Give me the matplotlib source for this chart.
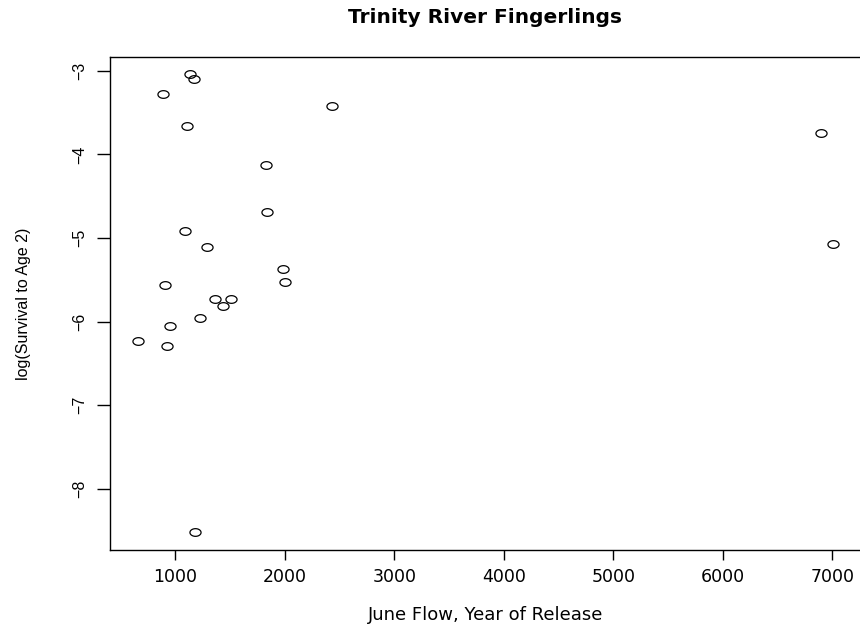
import numpy as np
import matplotlib

matplotlib.use("Agg")
import matplotlib.pyplot as plt
from matplotlib.path import Path

plt.rcParams["font.family"] = ["DejaVu Sans"]

# June flow and log survival
june_flow = [1137, 1176, 890, 2435, 1112, 1828, 1839, 1091, 1292, 1988, 2006,
             909, 1365, 1508, 1438, 1225, 952, 660, 927, 1182, 6894, 7006]
log_surv = [-3.04, -3.10, -3.28, -3.42, -3.66, -4.13, -4.69, -4.92, -5.11,
            -5.37, -5.53, -5.56, -5.73, -5.73, -5.81, -5.96, -6.05, -6.23,
            -6.29, -8.52, -3.75, -5.07]

x_ticks = [1000, 2000, 3000, 4000, 5000, 6000, 7000]
y_ticks = [-8, -7, -6, -5, -4, -3]

# the original is stretched sideways, so circles come out as flat ellipses
t = np.linspace(0, 2 * np.pi, 60)
ellipse = Path(np.column_stack([1.45 * np.cos(t), np.sin(t)]), closed=True)

fig = plt.figure(figsize=(8.6, 6.28), dpi=100)
ax = fig.add_axes([0.128, 0.1242, 0.873, 0.7855])

ax.plot(june_flow, log_surv, linestyle="none", marker=ellipse, markersize=8,
        markerfacecolor="none", markeredgecolor="black", markeredgewidth=0.9)

ax.set_xlim(406, 7260)
ax.set_ylim(-8.73, -2.833)
ax.set_xticks(x_ticks)
ax.set_yticks(y_ticks)
ax.tick_params(axis="x", direction="out", length=7, width=1, labelsize=12.5, pad=6)
ax.tick_params(axis="y", direction="out", length=9.5, width=1, pad=7)
for lab in ax.get_yticklabels():
    lab.set_rotation(90)
    lab.set_va("center")
    lab.set_family(["Liberation Sans", "DejaVu Sans"])
    lab.set_fontsize(11.5)
for s in ax.spines.values():
    s.set_linewidth(1.0)

ax_cx = (0.128 + 0.5 * 0.873)
fig.text(ax_cx, 1 - 615 / 628, "June Flow, Year of Release", ha="center",
         va="center", fontsize=13)
fig.text(24 / 860, 0.1242 + 0.5 * 0.7855, "log(Survival to Age 2)",
         ha="center", va="center", rotation=90, fontsize=11.5,
         family=["Liberation Sans", "DejaVu Sans"])
fig.text(ax_cx, 1 - 23 / 628, "Trinity River Fingerlings", ha="center",
         va="baseline", fontsize=14.5, fontweight="bold")

fig.savefig("out.png", dpi=100)
